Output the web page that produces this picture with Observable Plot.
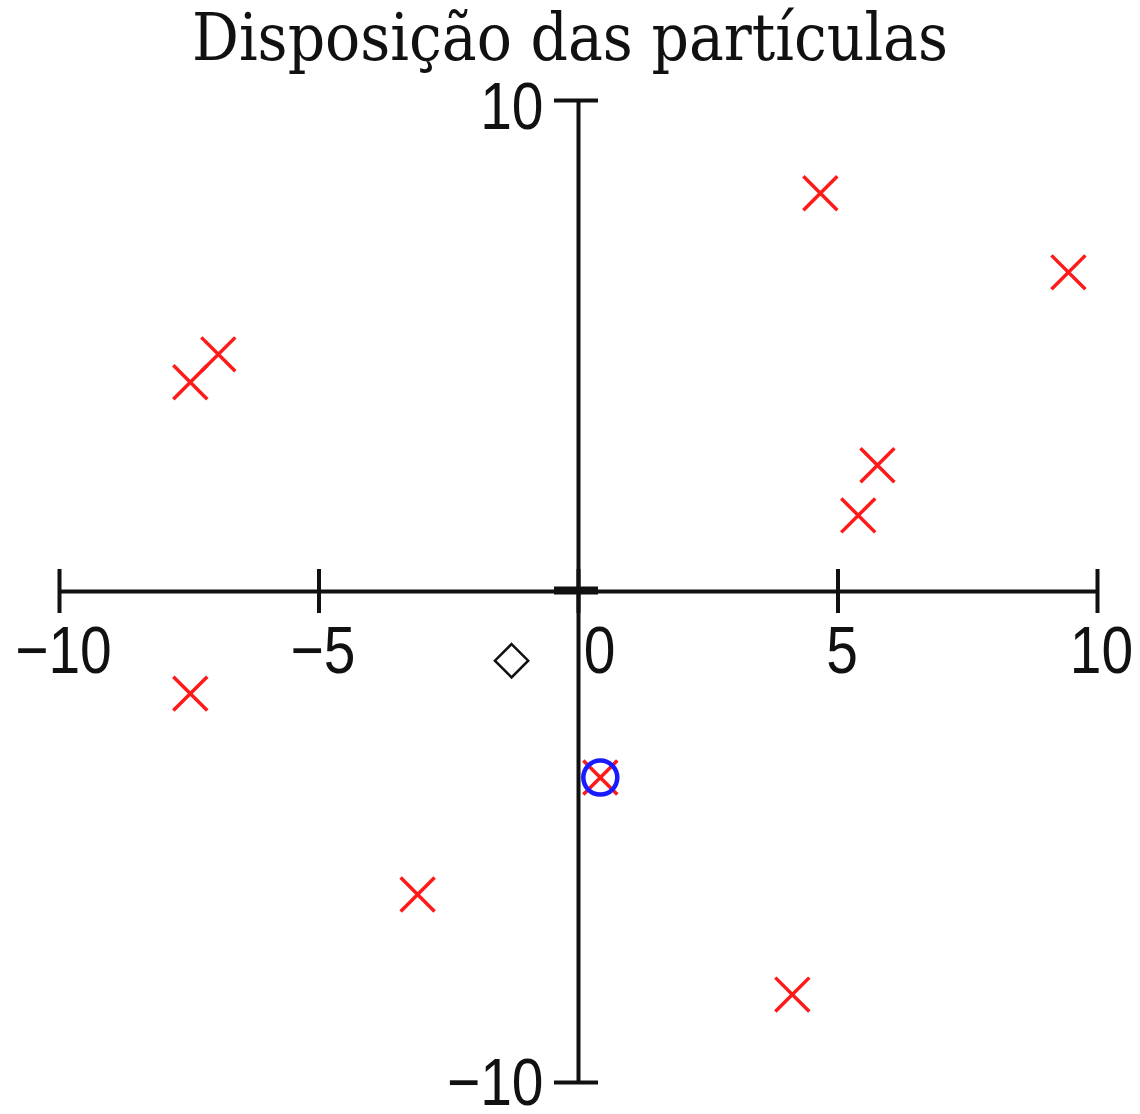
<!DOCTYPE html>
<html>
<head>
<meta charset="utf-8">
<script src="https://cdn.jsdelivr.net/npm/d3@7"></script>
<script src="https://cdn.jsdelivr.net/npm/@observablehq/plot@0.6"></script>
<style>
  html, body { margin: 0; padding: 0; background: #fff; }
  #title {
    height: 86px;
    box-sizing: border-box;
    padding-top: 5px;
    text-align: center;
    font-family: "DejaVu Serif", serif;
    font-size: 65px;
    line-height: 1;
    color: #111;
    white-space: nowrap;
  }
  #title span { display: inline-block; transform: scaleX(0.9); transform-origin: center; }
  #chart svg { display: block; overflow: visible; }
</style>
</head>
<body>
<div id="title"><span>Disposição das partículas</span></div>
<div id="chart"></div>
<script>
// Particle positions (x, y)
const particleX = [4.66, 9.44, -6.94, -7.48, 5.76, 5.39, -7.48, 0.42, -3.10, 4.12];
const particleY = [8.11, 6.50, 4.83, 4.26, 2.57, 1.55, -2.08, -3.79, -6.17, -8.21];

// Highlighted particle (blue ring) and the reference point (diamond)
const ringX = [0.42];
const ringY = [-3.79];
const diamondX = [-1.29];
const diamondY = [-1.41];

// Axis ticks and their labels
const xTicks = [-10, -5, 0, 5, 10];
const xTickLabels = ["−10", "−5", "0", "5", "10"];
const yTicks = [-10, 0, 10];
const yLabelTicks = [10, -10];
const yTickLabels = ["10", "−10"];

const particles = particleX.map((x, i) => ({x, y: particleY[i]}));
const ring = ringX.map((x, i) => ({x, y: ringY[i]}));
const diamond = diamondX.map((x, i) => ({x, y: diamondY[i]}));
const xLabelRows = xTicks.map((t, i) => ({t, label: xTickLabels[i]}));
const yLabelRows = yLabelTicks.map((t, i) => ({t, label: yTickLabels[i]}));

const ink = "#111";
const labelFont = "'Liberation Sans', Arial, sans-serif";
const labelSize = 67;

const chart = Plot.plot({
  width: 1140,
  height: 1028,
  marginLeft: 59,
  marginRight: 43,
  marginTop: 14,
  marginBottom: 32,
  x: {domain: [-10, 10], axis: null},
  y: {domain: [-10, 10], axis: null},
  style: {background: "white", overflow: "visible"},
  marks: [
    // axes crossing at the origin
    Plot.ruleY([0], {x1: -10, x2: 10, stroke: ink, strokeWidth: 4}),
    Plot.ruleX([0], {y1: -10, y2: 10, stroke: ink, strokeWidth: 4}),
    // tick marks straddling each axis
    Plot.ruleX(xTicks, {x: d => d, y1: 0, y2: 0, insetTop: -22, insetBottom: -22, stroke: ink, strokeWidth: 4}),
    Plot.ruleY(yTicks, {y: d => d, x1: 0, x2: 0, insetLeft: -24, insetRight: -20, stroke: ink, strokeWidth: 4}),
    Plot.ruleY([0], {y: d => d, x1: 0, x2: 0, insetLeft: -24, insetRight: -20, dy: -1, stroke: ink, strokeWidth: 8}),
    // x tick labels below the axis
    Plot.text(xLabelRows.filter(d => d.t !== 0), {
      x: "t", y: 0, text: "label", dy: 60, dx: 4,
      fontFamily: labelFont, fontSize: labelSize, fill: ink
    }),
    Plot.text(xLabelRows.filter(d => d.t === 0), {
      x: "t", y: 0, text: "label", dy: 60, dx: 21,
      fontFamily: labelFont, fontSize: labelSize, fill: ink
    }),
    // y tick labels to the left of the axis
    Plot.text(yLabelRows.filter(d => d.t > 0), {
      x: 0, y: "t", text: "label", textAnchor: "end", dx: -35, dy: 7,
      fontFamily: labelFont, fontSize: labelSize, fill: ink
    }),
    Plot.text(yLabelRows.filter(d => d.t < 0), {
      x: 0, y: "t", text: "label", textAnchor: "end", dx: -35, dy: 1,
      fontFamily: labelFont, fontSize: labelSize, fill: ink
    }),
    // reference point
    Plot.dot(diamond, {x: "x", y: "y", symbol: "diamond2", r: 15, stroke: ink, strokeWidth: 2.5, fill: "none"}),
    // particles
    Plot.dot(particles, {x: "x", y: "y", symbol: "times", r: 15.5, stroke: "#ff1a1a", strokeWidth: 3.5}),
    // highlighted particle
    Plot.dot(ring, {x: "x", y: "y", symbol: "circle", r: 17, stroke: "#1a1aff", strokeWidth: 4.5, fill: "none"})
  ]
});

// narrow the tick-label glyphs horizontally about each label's anchor
chart.querySelectorAll("text").forEach(t => {
  const tr = t.getAttribute("transform") || "";
  t.setAttribute("transform", tr + " scale(0.85,1)");
});

document.getElementById("chart").appendChild(chart);
</script>
</body>
</html>
